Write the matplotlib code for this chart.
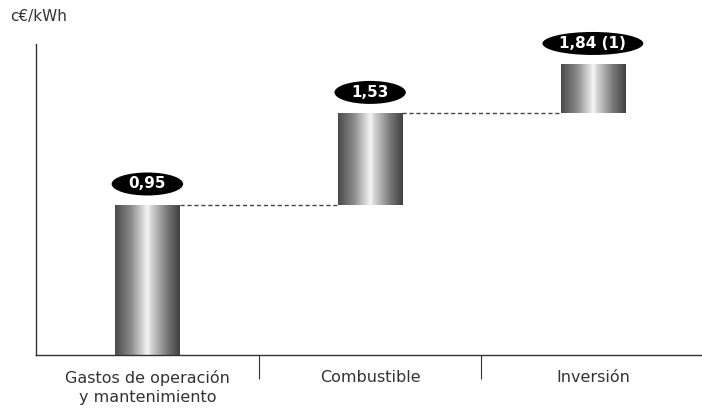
import numpy as np
import matplotlib.pyplot as plt
from matplotlib.patches import Ellipse
from matplotlib.colors import LinearSegmentedColormap

categories = ["Gastos de operación\ny mantenimiento", "Combustible", "Inversión"]
totals = [0.95, 1.53, 1.84]
value_labels = ["0,95", "1,53", "1,84 (1)"]
unit_label = "c€/kWh"

bottoms = [0] + totals[:-1]
heights = [t - b for t, b in zip(totals, bottoms)]

fig = plt.figure(figsize=(7.02, 4.15), dpi=100)
ax = fig.add_axes([36 / 702, 60 / 415, 1 - 36 / 702, 311 / 415])
ax.set_xlim(-0.5, 2.49)
ax.set_ylim(0, 311 / 157.9)

# metallic look: dark edges, bright streak slightly right of centre
grad_cmap = LinearSegmentedColormap.from_list(
    "metal",
    [(0.0, "#4a4a4a"), (0.25, "#8c8c8c"), (0.5, "#f6f6f6"), (0.56, "#d4d4d4"),
     (0.8, "#7a7a7a"), (1.0, "#404040")])
grad = np.linspace(0, 1, 256).reshape(1, -1)

x = np.arange(len(categories))
bars = ax.bar(x, heights, bottom=bottoms, width=0.29, color="none", edgecolor="none")
for rect in bars:
    x0, y0 = rect.get_x(), rect.get_y()
    im = ax.imshow(grad, cmap=grad_cmap, aspect="auto", zorder=2,
                   extent=[x0, x0 + rect.get_width(), y0, y0 + rect.get_height()])
    im.set_clip_path(rect)

# dashed connectors between bars
for i in range(len(bars) - 1):
    r1, r2 = bars[i], bars[i + 1]
    ax.plot([r1.get_x() + r1.get_width(), r2.get_x()], [totals[i], totals[i]],
            ls=(0, (3, 2)), color="#444444", lw=1, zorder=1)

# black ellipse value badges
fig.canvas.draw()
renderer = fig.canvas.get_renderer()
px_x = ax.transData.transform((1, 0))[0] - ax.transData.transform((0, 0))[0]
px_y = ax.transData.transform((0, 1))[1] - ax.transData.transform((0, 0))[1]
for xi, t, lab in zip(x, totals, value_labels):
    yc = t + 21 / px_y
    txt = ax.text(xi, yc, lab, ha="center", va="center", color="white",
                  fontsize=11, fontweight="bold", zorder=4, clip_on=False)
    w = txt.get_window_extent(renderer).width
    ax.add_patch(Ellipse((xi, yc), (w + 34) / px_x, 23 / px_y, clip_on=False,
                         facecolor="black", edgecolor="none", zorder=3))

for s in ["top", "right"]:
    ax.spines[s].set_visible(False)
for s in ["left", "bottom"]:
    ax.spines[s].set_color("#333333")
    ax.spines[s].set_linewidth(1)

ax.set_yticks([])
ax.set_xticks([0.5, 1.5])
ax.set_xticklabels([])
ax.tick_params(axis="x", which="major", length=17, direction="out", color="#333333")
ax.set_xticks(x, minor=True)
ax.set_xticklabels(categories, minor=True, fontsize=11.5, color="#333333", linespacing=1.3)
ax.tick_params(axis="x", which="minor", length=0, pad=11)

fig.text(10 / 702, 1 - 17 / 415, unit_label, ha="left", va="center", fontsize=11, color="#333333")

fig.savefig("out.png", dpi=100)
